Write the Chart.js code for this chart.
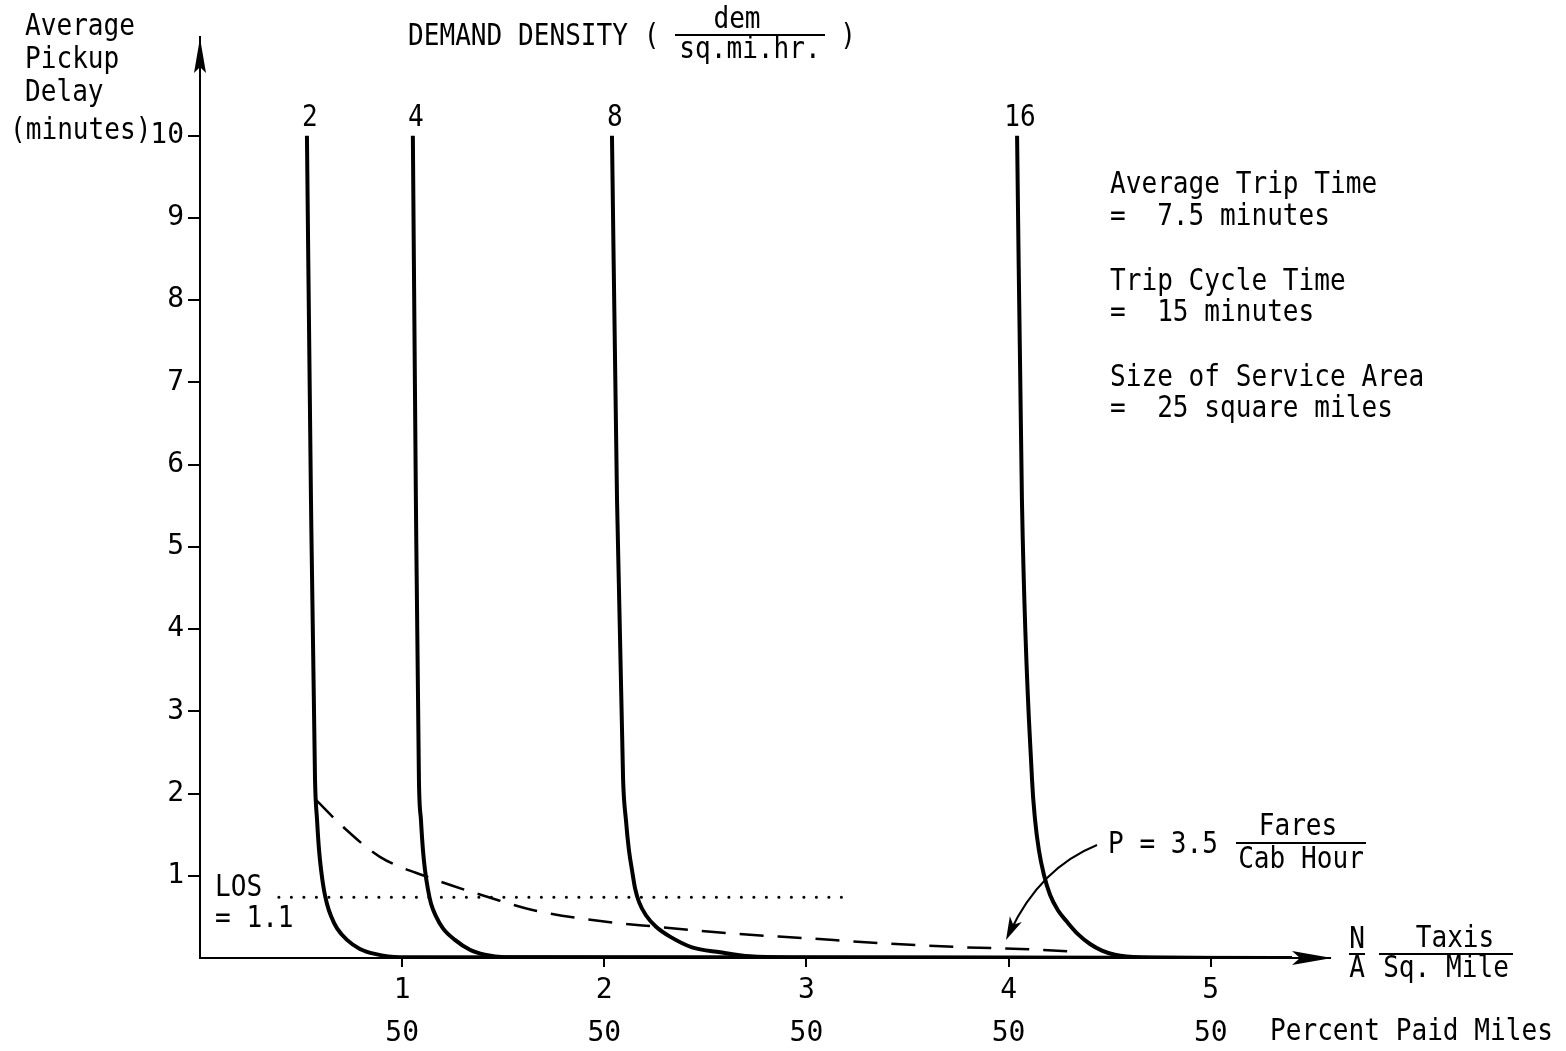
<!DOCTYPE html>
<html>
<head>
<meta charset="utf-8">
<script src="https://cdn.jsdelivr.net/npm/chart.js@4.4.1/dist/chart.umd.min.js"></script>
<style>
body { margin: 0; background: #fff; }
canvas { display: block; }
</style>
</head>
<body>
<canvas id="delay-chart" width="1566" height="1051"></canvas>
<script>
// demand density curves: taxis per sq. mile (x) vs pickup delay in minutes (y)
const density = ['2', '4', '8', '16'];

const taxis2 = [0.529, 0.549, 0.569, 0.579, 0.589, 0.599, 0.613, 0.628, 0.648, 0.678, 0.727, 0.791, 0.865, 0.989, 5.4];
const delay2 = [10, 5.57, 2.17, 1.68, 1.31, 1.07, 0.83, 0.66, 0.51, 0.36, 0.22, 0.11, 0.05, 0.01, 0];

const taxis4 = [1.053, 1.068, 1.083, 1.093, 1.103, 1.113, 1.128, 1.143, 1.167, 1.202, 1.261, 1.335, 1.409, 1.508, 5.4];
const delay4 = [10, 5.57, 2.17, 1.68, 1.31, 1.07, 0.83, 0.66, 0.51, 0.36, 0.22, 0.10, 0.04, 0.01, 0];

const taxis8 = [2.038, 2.063, 2.093, 2.107, 2.122, 2.137, 2.152, 2.172, 2.206, 2.256, 2.325, 2.434, 2.573, 2.721, 2.919, 5.4];
const delay8 = [10, 5.57, 2.17, 1.68, 1.31, 1.07, 0.85, 0.68, 0.52, 0.38, 0.26, 0.13, 0.07, 0.02, 0.006, 0];

const taxis16 = [4.042, 4.066, 4.116, 4.131, 4.150, 4.175, 4.205, 4.244, 4.289, 4.343, 4.403, 4.462, 4.526, 4.650, 5.4];
const delay16 = [10, 5.57, 2.17, 1.68, 1.31, 1.01, 0.77, 0.58, 0.44, 0.29, 0.17, 0.09, 0.04, 0.01, 0];

// P = 3.5 fares / cab hour
const taxisP = [0.575, 0.71, 0.89, 1.12, 1.44, 1.65, 1.98, 2.26, 2.62, 3.0, 3.37, 3.78, 4.06, 4.3];
const delayP = [1.92, 1.59, 1.23, 0.99, 0.73, 0.58, 0.45, 0.38, 0.30, 0.24, 0.18, 0.13, 0.11, 0.08];

// LOS line
const taxisLOS = [0.39, 3.18];
const delayLOS = [0.74, 0.74];

const xTicks = [1, 2, 3, 4, 5];
const paidMiles = ['50', '50', '50', '50', '50'];
const yTicks = [1, 2, 3, 4, 5, 6, 7, 8, 9, 10];

const FONT = '"DejaVu Sans Mono", monospace';

function pts(xs, ys) {
	return xs.map((x, i) => ({ x: x, y: ys[i] }));
}

function curve(xs, ys) {
	return {
		data: pts(xs, ys),
		showLine: true,
		borderColor: '#000',
		borderWidth: 4,
		pointRadius: 0,
		cubicInterpolationMode: 'monotone',
		fill: false
	};
}

function say(ctx, s, x, y, align) {
	ctx.save();
	ctx.translate(x, y);
	ctx.scale(0.87, 1);
	ctx.textAlign = align || 'left';
	ctx.textBaseline = 'middle';
	ctx.fillText(s, 0, 0);
	ctx.restore();
}

function bar(ctx, x1, x2, y) {
	ctx.beginPath();
	ctx.moveTo(x1, y);
	ctx.lineTo(x2, y);
	ctx.stroke();
}

const notes = {
	id: 'notes',
	afterDraw(chart) {
		const ctx = chart.ctx;
		const a = chart.chartArea;
		const xs = chart.scales.x, ys = chart.scales.y;
		ctx.save();
		ctx.fillStyle = '#000';
		ctx.strokeStyle = '#000';
		ctx.lineWidth = 2;

		// axis arrows
		ctx.beginPath();
		ctx.moveTo(a.left, a.top + 1);
		ctx.lineTo(a.left - 6, a.top + 36);
		ctx.lineTo(a.left, a.top + 30);
		ctx.lineTo(a.left + 6, a.top + 36);
		ctx.closePath();
		ctx.fill();
		ctx.beginPath();
		ctx.moveTo(a.right + 2, a.bottom);
		ctx.lineTo(a.right - 38, a.bottom - 7);
		ctx.lineTo(a.right - 30, a.bottom);
		ctx.lineTo(a.right - 38, a.bottom + 7);
		ctx.closePath();
		ctx.fill();
		bar(ctx, a.right - 40, a.right, a.bottom);

		ctx.font = '30px ' + FONT;

		// y title
		say(ctx, 'Average', 25, 27);
		say(ctx, 'Pickup', 25, 60);
		say(ctx, 'Delay', 25, 93);
		say(ctx, '(minutes)', 10, 131);

		// top title
		say(ctx, 'DEMAND DENSITY (', 408, 37);
		say(ctx, 'dem', 737, 20, 'center');
		bar(ctx, 675, 825, 35);
		say(ctx, 'sq.mi.hr.', 750, 50, 'center');
		say(ctx, ')', 848, 37, 'center');

		// curve labels
		[taxis2, taxis4, taxis8, taxis16].forEach((t, i) => {
			say(ctx, density[i], xs.getPixelForValue(t[0]) + 3, ys.getPixelForValue(10) - 17, 'center');
		});

		// parameters
		say(ctx, 'Average Trip Time', 1110, 185);
		say(ctx, '=  7.5 minutes', 1110, 217);
		say(ctx, 'Trip Cycle Time', 1110, 282);
		say(ctx, '=  15 minutes', 1110, 313);
		say(ctx, 'Size of Service Area', 1110, 378);
		say(ctx, '=  25 square miles', 1110, 409);

		// LOS
		say(ctx, 'LOS', 215, 888);
		say(ctx, '= 1.1', 215, 919);

		// P label and arrow
		say(ctx, 'P = 3.5', 1108, 845);
		say(ctx, 'Fares', 1298, 827, 'center');
		bar(ctx, 1236, 1366, 843);
		say(ctx, 'Cab Hour', 1301, 860, 'center');

		const sx = 1097, sy = 845, cx = 1040, cy = 868, ex = 1006, ey = 940;
		ctx.beginPath();
		ctx.moveTo(sx, sy);
		ctx.quadraticCurveTo(cx, cy, ex + 4, ey - 8);
		ctx.stroke();
		const ang = Math.atan2(ey - cy, ex - cx);
		ctx.beginPath();
		ctx.moveTo(ex, ey);
		ctx.lineTo(ex - 24 * Math.cos(ang - 0.28), ey - 24 * Math.sin(ang - 0.28));
		ctx.lineTo(ex - 17 * Math.cos(ang), ey - 17 * Math.sin(ang));
		ctx.lineTo(ex - 24 * Math.cos(ang + 0.28), ey - 24 * Math.sin(ang + 0.28));
		ctx.closePath();
		ctx.fill();

		// x title
		say(ctx, 'N', 1357, 940, 'center');
		bar(ctx, 1349, 1365, 954);
		say(ctx, 'A', 1357, 969, 'center');
		say(ctx, 'Taxis', 1455, 939, 'center');
		bar(ctx, 1379, 1513, 954);
		say(ctx, 'Sq. Mile', 1446, 969, 'center');
		say(ctx, 'Percent Paid Miles', 1270, 1032);

		ctx.restore();
	}
};

const ctx = document.querySelector('#delay-chart');

new Chart(ctx, {
	type: 'scatter',
	data: {
		datasets: [
			curve(taxis2, delay2),
			curve(taxis4, delay4),
			curve(taxis8, delay8),
			curve(taxis16, delay16),
			{
				data: pts(taxisP, delayP),
				showLine: true,
				borderColor: '#000',
				borderWidth: 2.5,
				borderDash: [24, 14],
				pointRadius: 0,
				cubicInterpolationMode: 'monotone'
			},
			{
				data: pts(taxisLOS, delayLOS),
				showLine: true,
				borderColor: '#000',
				borderWidth: 3,
				borderDash: [0.1, 12.4],
				borderCapStyle: 'round',
				pointRadius: 0
			}
		]
	},
	options: {
		responsive: false,
		animation: false,
		layout: {
			padding: { left: 0, top: 37, right: 236, bottom: 0 }
		},
		plugins: {
			legend: { display: false },
			tooltip: { enabled: false }
		},
		scales: {
			x: {
				type: 'linear',
				min: 0,
				max: 5.59,
				afterFit: (s) => { s.height = 93; },
				afterBuildTicks: (s) => { s.ticks = xTicks.map(v => ({ value: v })); },
				border: { display: true, color: '#000', width: 2 },
				grid: { drawOnChartArea: false, drawTicks: true, tickLength: 9, color: '#000', lineWidth: 2 },
				ticks: {
					color: '#000',
					padding: 2,
					maxRotation: 0,
					font: { family: FONT, size: 28, lineHeight: 1.55 },
					callback: (v) => [String(v), paidMiles[xTicks.indexOf(v)]]
				}
			},
			y: {
				type: 'linear',
				min: 0,
				max: 11.2,
				afterFit: (s) => { s.width = 200; },
				afterBuildTicks: (s) => { s.ticks = yTicks.map(v => ({ value: v })); },
				border: { display: true, color: '#000', width: 2 },
				grid: { drawOnChartArea: false, drawTicks: true, tickLength: 12, color: '#000', lineWidth: 2 },
				ticks: {
					color: '#000',
					padding: 4,
					font: { family: FONT, size: 28 }
				}
			}
		}
	},
	plugins: [notes]
});
</script>
</body>
</html>
